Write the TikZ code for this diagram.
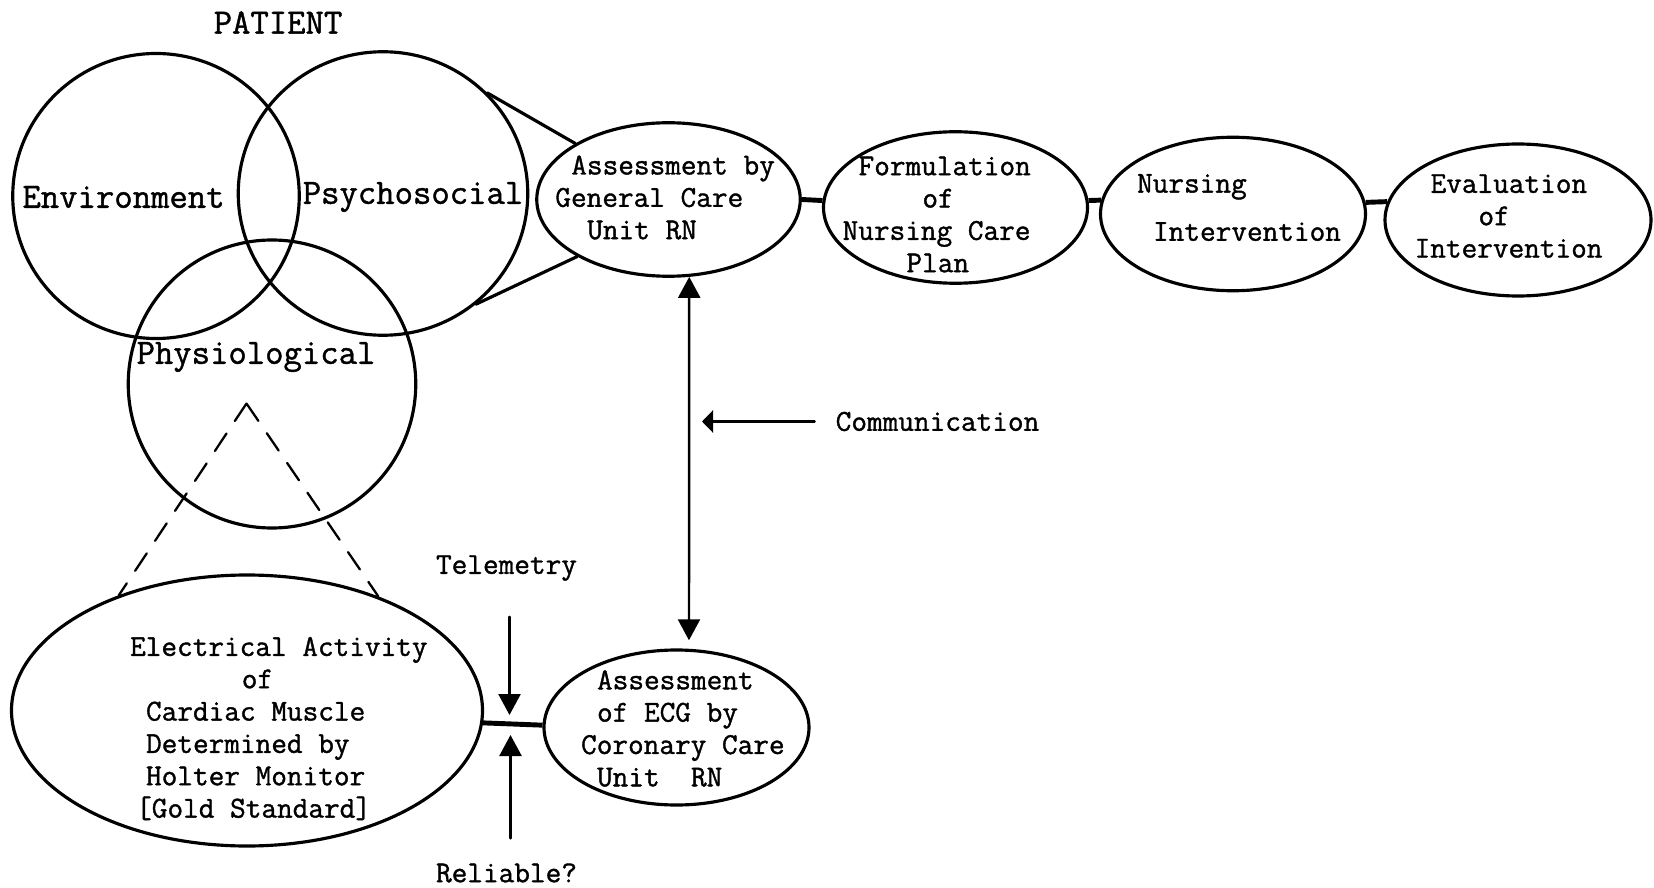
\documentclass[tikz,border=0pt]{standalone}
\usepackage{fontspec}
\newfontfamily\typer[FakeBold=1.2]{Latin Modern Mono}
\usetikzlibrary{shapes.geometric,arrows.meta}
\begin{document}
\begin{tikzpicture}[line join=round,line cap=round,>={Triangle[length=0.42cm,width=0.44cm]},
	oval/.style={draw,ellipse,line width=1.8pt,inner sep=0pt},
	txt/.style={font=\typer\fontsize{17.3}{18.4}\selectfont,inner sep=1pt},
	block/.style={txt,align=left,anchor=west},
	big/.style={font=\typer\fontsize{20.3}{22}\selectfont,inner sep=1pt},
	link/.style={line width=2.8pt,line cap=butt}]
	\useasboundingbox (0,0) rectangle (33.08,-17.76);
	% patient
	\node[oval,minimum width=5.73cm,minimum height=5.70cm] (env) at (3.12,-3.92) {};
	\node[oval,minimum width=5.79cm,minimum height=5.67cm] (psy) at (7.66,-3.87) {};
	\node[oval,minimum width=5.75cm,minimum height=5.76cm] (phys) at (5.44,-7.68) {};
	\node[big] (patient) at (5.56,-0.45) {PATIENT};
	\node[big] (envtxt) at (2.47,-3.94) {Environment};
	\node[big] (psytxt) at (8.26,-3.94) {Psychosocial};
	\node[big] (phystxt) at (5.12,-7.14) {Physiological};
	% nursing process
	\node[oval,minimum width=5.27cm,minimum height=3.07cm] (gcu) at (13.37,-3.99) {};
	\node[oval,minimum width=5.28cm,minimum height=3.03cm] (form) at (19.11,-4.15) {};
	\node[oval,minimum width=5.30cm,minimum height=3.07cm] (ni) at (24.66,-4.28) {};
	\node[oval,minimum width=5.32cm,minimum height=3.04cm] (eval) at (30.36,-4.40) {};
	\node[block] (gcutxt) at (11.065,-3.95) {\hspace*{.525em}Assessment by\\General Care\\\hspace*{1.05em}Unit RN};
	\node[block] (formtxt) at (16.81,-4.29) {\hspace*{.525em}Formulation\\\hspace*{2.625em}of\\Nursing Care\\\hspace*{2.1em}Plan};
	\node[block] (nitxt) at (22.70,-4.15) {Nursing\\[9pt]\hspace*{.525em}Intervention};
	\node[block] (evaltxt) at (28.25,-4.32) {\hspace*{.525em}Evaluation\\\hspace*{2.1em}of\\Intervention};
	% monitoring
	\node[oval,minimum width=9.42cm,minimum height=5.42cm] (elec) at (4.94,-14.21) {};
	\node[oval,minimum width=5.30cm,minimum height=3.10cm] (ecg) at (13.53,-14.55) {};
	\node[block] (electxt) at (2.56,-14.57) {Electrical Activity\\\hspace*{3.675em}of\\\hspace*{.525em}Cardiac Muscle\\\hspace*{.525em}Determined by\\\hspace*{.525em}Holter Monitor\\\hspace*{.2em}[Gold Standard]};
	\node[block] (ecgtxt) at (11.58,-14.57) {\hspace*{.525em}Assessment\\\hspace*{.525em}of ECG by\\Coronary Care\\\hspace*{.525em}Unit\ \ RN};
	\node[txt] (tele) at (10.13,-11.36) {Telemetry};
	\node[txt] (rel) at (10.13,-17.46) {Reliable?};
	\node[txt] (comm) at (18.75,-8.43) {Communication};
	\coordinate (apex) at (4.93,-8.07);
	\coordinate (commtip) at (14.04,-8.43);
	\coordinate (teletip) at (10.19,-14.30);
	\coordinate (reltip) at (10.21,-14.70);
	% connectors
	\draw[line width=1.8pt] (psy.44) -- (gcu.149) (psy.-50) -- (gcu.212);
	\draw[link] (gcu.east) -- (form.177);
	\draw[link] (form.3) -- (ni.174);
	\draw[link] (ni.5) -- (eval.172);
	\draw[link] (elec.-3) -- (ecg.179);
	\draw[line width=1.3pt,dash pattern=on 0.42cm off 0.3cm] (apex) -- (elec.138) (apex) -- (elec.41);
	\draw[<->,line width=1.4pt,shorten >=0.17cm] (gcu.-75) -- (ecg.81);
	\draw[-{Triangle[length=0.22cm,width=0.44cm]},line width=1.4pt,shorten <=0.38cm] (comm) -- (commtip);
	\draw[->,line width=1.4pt,shorten <=0.68cm] (tele.south -| teletip) -- (teletip);
	\draw[->,line width=1.4pt,shorten <=0.46cm] (rel.north -| reltip) -- (reltip);
\end{tikzpicture}
\end{document}
